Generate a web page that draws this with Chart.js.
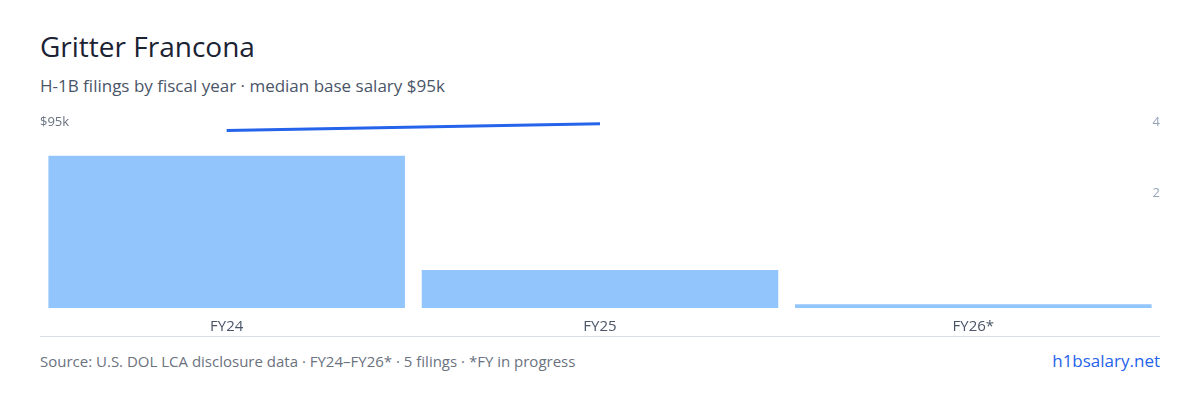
<!DOCTYPE html>
<html><head><meta charset="utf-8">
<script src="https://cdn.jsdelivr.net/npm/chart.js@4/dist/chart.umd.min.js"></script>
<style>
body{margin:0;width:1200px;height:400px;background:#fff;font-family:"Open Sans",sans-serif;position:relative;overflow:hidden}
#t{position:absolute;left:40px;top:27px;font-size:28px;color:#1a2233}
#s{position:absolute;left:40px;top:74px;font-size:17px;color:#4a5568}
#w{position:absolute;left:40px;top:110px;width:1120px;height:226px;border-bottom:1px solid #d8dde6}
#f{position:absolute;left:40px;top:351px;font-size:15px;color:#6b7280}
#r{position:absolute;right:40px;top:349px;font-size:17px;color:#2563eb}
</style></head><body>
<div id="t">Gritter Francona</div>
<div id="s">H-1B filings by fiscal year · median base salary $95k</div>
<div id="w"><canvas id="c"></canvas></div>
<div id="f">Source: U.S. DOL LCA disclosure data · FY24–FY26* · 5 filings · *FY in progress</div>
<div id="r">h1bsalary.net</div>
<script>
const categories=["FY24","FY25","FY26*"];
const filings=[4,1,0.1];
const salaryLine=[3.78,3.97,null];
const rightTicks=[2,4];
new Chart(document.getElementById('c'),{
 data:{labels:categories,datasets:[
  {type:'line',data:salaryLine,yAxisID:'y2',borderColor:'#2563eb',borderWidth:3,pointRadius:0,order:0},
  {type:'bar',data:filings,yAxisID:'y',backgroundColor:'#93c5fd',barPercentage:0.955,categoryPercentage:1,order:1}
 ]},
 options:{responsive:true,maintainAspectRatio:false,animation:false,
  layout:{padding:{top:5}},
  plugins:{legend:{display:false},tooltip:{enabled:false}},
  scales:{
   x:{grid:{display:false},border:{display:false},afterFit:a=>{a.height=28},ticks:{color:'#4a5568',font:{family:'Open Sans',size:15},padding:2}},
   y:{position:'left',min:0,max:5,grid:{display:false},border:{display:false},afterFit:a=>{a.width=0},
      afterBuildTicks:a=>{a.ticks=[{value:4.87}]},
      ticks:{mirror:true,padding:0,color:'#6b7280',font:{family:'Open Sans',size:13},callback:()=>'$95k'}},
   y2:{position:'right',min:-1.22,max:4.14,grid:{display:false},border:{display:false},afterFit:a=>{a.width=0},
      afterBuildTicks:a=>{a.ticks=rightTicks.map(v=>({value:v}))},
      ticks:{mirror:true,padding:0,color:'#94a3b8',font:{family:'Open Sans',size:13}}}
  }}
});
</script></body></html>
